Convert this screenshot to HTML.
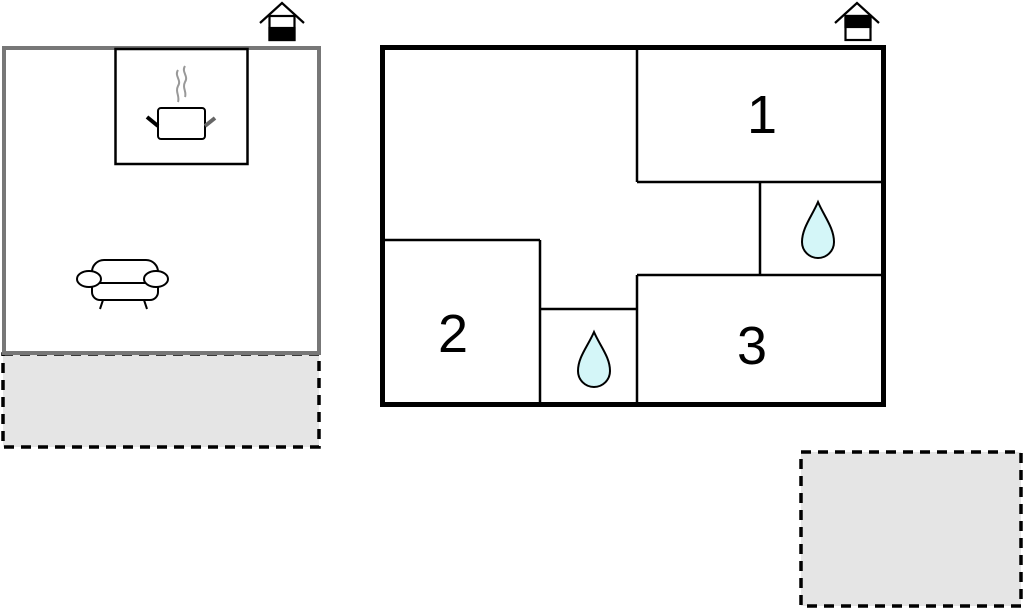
<!DOCTYPE html>
<html><head><style>html,body{margin:0;padding:0;background:#fff;width:1024px;height:609px;overflow:hidden}</style></head>
<body>
<svg width="1024" height="609" viewBox="0 0 1024 609" xmlns="http://www.w3.org/2000/svg">
<!-- dashed areas -->
<rect x="3" y="354" width="316" height="93" fill="#e5e5e5" stroke="#000" stroke-width="3.5" stroke-dasharray="10,7"/>
<rect x="801" y="452" width="220" height="154" fill="#e5e5e5" stroke="#000" stroke-width="3.5" stroke-dasharray="10,7"/>
<!-- left building -->
<rect x="4" y="48" width="315" height="305" fill="#fff" stroke="#777" stroke-width="4"/>
<rect x="115.5" y="49" width="132" height="115" fill="none" stroke="#000" stroke-width="2.5"/>
<!-- pot -->
<g stroke="#000" fill="none">
<rect x="158" y="108" width="47" height="31" rx="3" stroke-width="2"/>
<line x1="147" y1="117" x2="158" y2="126" stroke-width="4"/>
<line x1="205" y1="126" x2="215" y2="118" stroke-width="4" stroke="#666"/>
<path d="M178,70 c-4,6 4,10 0,16 c-3,6 2,10 0,16" stroke="#999" stroke-width="2"/>
<path d="M185,66 c-4,6 4,10 0,16 c-3,6 2,10 0,15" stroke="#999" stroke-width="2"/>
</g>
<!-- sofa -->
<g stroke="#000" fill="#fff" stroke-width="2">
<path d="M92,272 a12,12 0 0 1 12,-12 h42 a12,12 0 0 1 12,12 v20 a8,8 0 0 1 -8,8 h-50 a8,8 0 0 1 -8,-8 z"/>
<line x1="92" y1="283" x2="154" y2="283"/>
<ellipse cx="89" cy="279" rx="12" ry="8"/>
<ellipse cx="156" cy="279" rx="12" ry="8"/>
<line x1="103" y1="300" x2="100" y2="309"/>
<line x1="144" y1="300" x2="147" y2="309"/>
</g>
<!-- house icons -->
<g stroke="#000" stroke-width="2.2" fill="none">
<polyline points="260,23 282,3 304,23"/>
<rect x="269.5" y="16" width="25" height="24" fill="#fff"/>
<rect x="269.5" y="28" width="25" height="12" fill="#000"/>
<polyline points="835,23 857,3 879,23"/>
<rect x="845.5" y="16" width="25" height="24" fill="#fff"/>
<rect x="845.5" y="16" width="25" height="11" fill="#000"/>
</g>
<!-- right building -->
<g stroke="#000" fill="none" stroke-width="2.5">
<line x1="637" y1="48" x2="637" y2="182"/>
<line x1="637" y1="182" x2="882" y2="182"/>
<line x1="760" y1="182" x2="760" y2="275"/>
<line x1="637" y1="275" x2="882" y2="275"/>
<line x1="637" y1="275" x2="637" y2="404"/>
<line x1="540" y1="309" x2="637" y2="309"/>
<line x1="540" y1="240" x2="540" y2="404"/>
<line x1="383" y1="240" x2="540" y2="240"/>
</g>
<rect x="382.5" y="47.5" width="501" height="357" fill="none" stroke="#000" stroke-width="5"/>
<g font-family="Liberation Sans, sans-serif" font-size="54" fill="#000" text-anchor="middle">
<text x="762" y="133">1</text>
<text x="453" y="352">2</text>
<text x="752" y="364">3</text>
</g>
<!-- drops -->
<g fill="#d4f6f8" stroke="#000" stroke-width="2">
<path d="M818,202 C812,216 802,228 802,242 a16,16 0 0 0 32,0 C834,228 824,216 818,202 Z"/>
<path d="M594,332 C588,346 578,357 578,371 a16,16 0 0 0 32,0 C610,357 600,346 594,332 Z"/>
</g>
</svg>
</body></html>
